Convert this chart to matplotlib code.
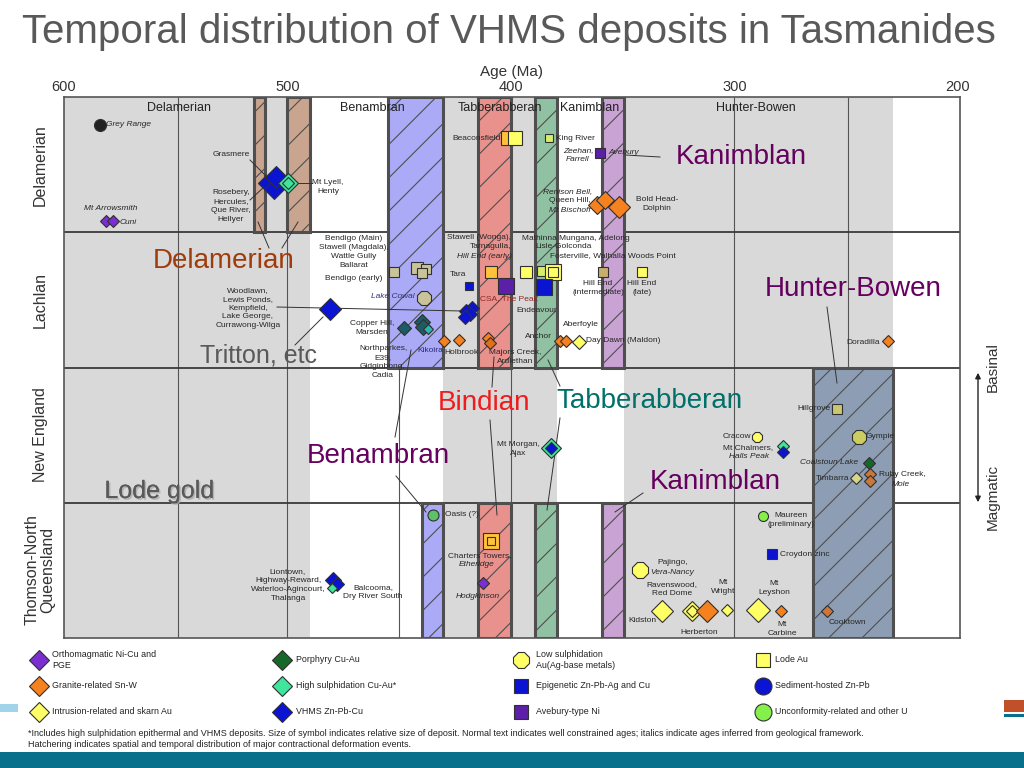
import matplotlib
matplotlib.use('Agg')
import matplotlib.pyplot as plt
import matplotlib.patheffects as pe
from matplotlib.patches import Rectangle
from matplotlib.transforms import Affine2D
from matplotlib import font_manager

plt.rcParams['font.family'] = ['Liberation Sans', 'DejaVu Sans']
plt.rcParams['hatch.linewidth'] = 0.8

W, H = 1024, 768

# ---------------- data ----------------
title = 'Temporal distribution of VHMS deposits in Tasmanides'
age_ticks = [600, 500, 400, 300, 200]
row_names = ['Thomson-North\nQueensland', 'New England', 'Lachlan', 'Delamerian']

# grey background intervals (Ma) and thin vertical rules
grey_spans = [(600, 490), (430.4, 379.4), (349.4, 229.3)]
rule_ages = [549, 500, 450, 400, 300, 249]

# contractional deformation events (hatched)
band_event = ['Delamerian', 'Delamerian', 'Benambran', 'Benambran', 'Bindian', 'Bindian',
              'Tabberabberan', 'Tabberabberan', 'Kanimblan', 'Kanimblan', 'Hunter-Bowen']
band_old = [515, 500, 455, 440, 414.8, 414.8, 389.3, 389.3, 359.3, 359.3, 264.9]
band_young = [510, 490, 430.4, 430.4, 400, 400, 379.4, 379.4, 349.4, 349.4, 229.3]
band_row_lo = [3, 3, 2, 0, 2, 0, 2, 0, 2, 0, 0]
band_row_hi = [4, 4, 4, 1, 4, 1, 4, 1, 4, 1, 2]

# deposits: age (Ma), row (0 Thomson .. 3 Delamerian), type, symbol size (px)
dep_age = [583.9, 581.2, 578.1, 510.1, 506.0, 505.1, 499.8, 499.8, 401.3, 398.2, 383.0, 360.2,
           361.5, 357.9, 351.7,
           452.3, 442.1, 438.0, 439.8, 438.9, 447.9, 439.8, 439.4, 437.1, 481.0, 418.8,
           417.4, 420.1, 418.3, 420.6, 430.0, 423.3, 408.9, 402.2, 410.3, 409.4, 393.3, 386.1,
           381.2, 381.2, 385.2, 378.1, 375.4, 369.6, 358.8, 341.4, 231.3,
           254.1, 290.1, 278.3, 278.3, 382.1, 382.1, 244.3, 239.8, 245.6, 239.4, 239.4,
           434.9, 408.9, 408.9, 412.5, 479.6, 477.9, 480.1, 342.3, 332.4, 319.0, 319.0, 312.3,
           303.4, 289.5, 279.2, 258.6, 287.2, 283.2]
dep_row = [3] * 15 + [2] * 32 + [1] * 11 + [0] * 18
dep_type = ['sed_black', 'ortho', 'ortho', 'vhms', 'vhms', 'vhms', 'hs', 'hs', 'lode_orange', 'lode',
            'lode_lime', 'avebury', 'granite', 'granite', 'granite',
            'lode_khaki', 'lode_khaki', 'lode_khaki', 'lode_khaki', 'low_khaki', 'porph_teal',
            'porph_teal', 'porph_teal', 'hs_teal', 'vhms', 'epigenetic',
            'vhms', 'vhms', 'vhms', 'vhms', 'granite', 'granite', 'lode_orange', 'avebury',
            'granite', 'granite_dark', 'lode', 'lode_lime',
            'lode', 'lode', 'epigenetic', 'granite', 'granite', 'intrusion', 'lode_tan', 'lode',
            'granite',
            'lode_olive', 'lowsulph', 'hs', 'vhms', 'hs', 'vhms', 'low_olive', 'porphyry',
            'intr_khaki', 'granite_brown', 'granite_brown',
            'uranium_mid', 'lode_orange', 'lode_orange', 'ortho', 'vhms', 'vhms', 'hs', 'lowsulph',
            'intrusion', 'intrusion', 'intrusion', 'granite', 'intrusion', 'intrusion', 'granite',
            'granite_brown', 'uranium', 'epigenetic']
dep_size = [12, 12, 12, 14, 20, 22, 20, 11, 15, 15, 9, 11, 18, 18, 22,
            10, 13, 10, 11, 15, 13, 16, 16, 9, 22, 9, 14, 14, 14, 14, 11, 11, 12, 16, 12, 12, 12, 11,
            17, 10, 16, 12, 12, 13, 10, 10, 12,
            10, 11, 12, 12, 20, 11, 16, 12, 12, 12, 12,
            11, 16, 9, 11, 16, 14, 9, 18, 22, 20, 11, 22, 12, 24, 12, 12, 10, 10]
# vertical placement inside each row (0 bottom .. 1 top), layout only
dep_level = [0.793, 0.083, 0.083, 0.364, 0.320, 0.409, 0.364, 0.364, 0.697, 0.697, 0.697, 0.586,
             0.201, 0.238, 0.187,
             0.706, 0.736, 0.728, 0.699, 0.514, 0.292, 0.336, 0.300, 0.285, 0.433, 0.603,
             0.440, 0.418, 0.396, 0.373, 0.196, 0.203, 0.706, 0.603, 0.218, 0.181, 0.706, 0.714,
             0.706, 0.706, 0.595, 0.196, 0.196, 0.189, 0.706, 0.706, 0.196,
             0.693, 0.486, 0.420, 0.375, 0.405, 0.405, 0.486, 0.294, 0.183, 0.213, 0.161,
             0.909, 0.717, 0.717, 0.407, 0.429, 0.399, 0.370, 0.503, 0.200, 0.200, 0.200, 0.200,
             0.207, 0.207, 0.200, 0.200, 0.902, 0.621]

legend_text = ['Orthomagmatic Ni-Cu and\nPGE', 'Granite-related Sn-W', 'Intrusion-related and skarn Au',
               'Porphyry Cu-Au', 'High sulphidation Cu-Au*', 'VHMS Zn-Pb-Cu',
               'Low sulphidation\nAu(Ag-base metals)', 'Epigenetic Zn-Pb-Ag and Cu', 'Avebury-type Ni',
               'Lode Au', 'Sediment-hosted Zn-Pb', 'Unconformity-related and other U']
legend_type = ['ortho', 'granite', 'intrusion', 'porphyry', 'hs', 'vhms',
               'lowsulph', 'epigenetic', 'avebury', 'lode', 'sediment', 'uranium']

footnote = ('*Includes high sulphidation epithermal and VHMS deposits. Size of symbol indicates relative '
            'size of deposit. Normal text indicates well constrained ages; italics indicate ages inferred '
            'from geological framework.\nHatchering indicates spatial and temporal distribution of major '
            'contractional deformation events.')

# ---------------- styles ----------------
event_color = {'Delamerian': '#c9a48f', 'Benambran': '#aaaaf7', 'Bindian': '#e9918c',
               'Tabberabberan': '#91c1a3', 'Kanimblan': '#c9a3d3', 'Hunter-Bowen': '#8d9eb4'}
sym = {
    'ortho': ('D', '#7b2fd0'), 'granite': ('D', '#f5821f'), 'granite_dark': ('D', '#e0701a'),
    'granite_brown': ('D', '#c8783c'), 'intrusion': ('D', '#ffff66'), 'intr_khaki': ('D', '#d6d68a'),
    'porphyry': ('D', '#17672a'), 'porph_teal': ('D', '#1d5c66'), 'hs': ('D', '#3fe59d'),
    'hs_teal': ('D', '#2fb5b0'), 'vhms': ('D', '#0a14d2'),
    'lowsulph': ('8', '#ffff66'), 'low_khaki': ('8', '#c9c39a'), 'low_olive': ('8', '#cccc60'),
    'epigenetic': ('s', '#0a14d2'), 'avebury': ('s', '#5b1fa8'), 'lode': ('s', '#ffff66'),
    'lode_orange': ('s', '#ffc23a'), 'lode_lime': ('s', '#d4ef6a'), 'lode_khaki': ('s', '#c9c39a'),
    'lode_tan': ('s', '#c6ae6c'), 'lode_olive': ('s', '#c8c870'),
    'sediment': ('o', '#0a14d2'), 'sed_black': ('o', '#222222'),
    'uranium': ('o', '#86f04a'), 'uranium_mid': ('o', '#5fc06a'),
}
px_per_ms = {'D': 1.964, 's': 1.389, 'o': 1.389, '8': 1.389}

names = {f.name for f in font_manager.fontManager.ttflist}
narrow = 'Liberation Sans Narrow' if 'Liberation Sans Narrow' in names else 'Liberation Sans'
narrow_scale = 1.2 if narrow == 'Liberation Sans Narrow' else 1.0

# ---------------- figure ----------------
fig = plt.figure(figsize=(W / 100, H / 100), dpi=100)
fig.patch.set_facecolor('white')
ax = fig.add_axes([64 / W, 1 - 638 / H, 896 / W, 541 / H])
ax.set_xlim(600, 199.1)
ax.set_ylim(0, 4)
pix = Affine2D().scale(1 / W, -1 / H).translate(0, 1) + fig.transFigure

for a0, a1 in grey_spans:
    ax.add_patch(Rectangle((a1, 0), a0 - a1, 4, fc='#d9d9d9', ec='none', zorder=0.5))
ax.vlines(rule_ages, 0, 4, colors='#555555', lw=0.8, zorder=1)
ax.hlines([1, 2, 3], 600, 199.1, colors='#3a3a3a', lw=1.3, zorder=1.5)

for ev, a0, a1, r0, r1 in zip(band_event, band_old, band_young, band_row_lo, band_row_hi):
    ax.add_patch(Rectangle((a1, r0), a0 - a1, r1 - r0, fc=event_color[ev], ec='#4f4f4f',
                           lw=2.2, hatch='/', zorder=2))

for a, r, t, s, lv in zip(dep_age, dep_row, dep_type, dep_size, dep_level):
    m, c = sym[t]
    ax.plot(a, r + lv, marker=m, ms=s / px_per_ms[m], mfc=c, mec='#303030', mew=0.8,
            ls='none', zorder=4)

for sp in ax.spines.values():
    sp.set_color('#555555')
    sp.set_linewidth(1.2)
ax.set_xticks(age_ticks)
ax.xaxis.tick_top()
ax.tick_params(axis='x', length=0, pad=2, labelsize=10.5, labelcolor='#333333')
ax.set_yticks([])

# ---------------- annotations (pixel layout) ----------------
def T(x, y, s, size=6.0, ha='center', style='normal', color='#262626', z=3, **kw):
    return ax.text(x, y, s, transform=pix, fontsize=size, ha=ha, va='center', style=style,
                   color=color, zorder=z, clip_on=False, linespacing=1.36, **kw)


def L(x0, y0, x1, y1, lw=0.7, z=2.5):
    ax.plot([x0, x1], [y0, y1], transform=pix, color='#333333', lw=lw, zorder=z, clip_on=False)


fig.text(509 / W, 1 - 32 / H, title, ha='center', va='center', fontsize=29, color='#595959')
fig.text(511 / W, 1 - 72 / H, 'Age (Ma)', ha='center', va='center', fontsize=11, color='#333333')
for name, y in zip(row_names, [570, 435, 300, 165]):
    fig.text(40 / W, 1 - y / H, name, rotation=90, ha='center', va='center', fontsize=11.5,
             color='#333333', linespacing=1.0)

for name, x in zip(['Delamerian', 'Benambran', 'Tabberabberan', 'Kanimblan', 'Hunter-Bowen'],
                   [179, 372, 500, 590, 756]):
    T(x, 108, name, size=9, color='#222222', z=3)

small = [
    ('Grey Range', 106, 125, 'left', 'italic'), ('Mt Arrowsmith', 111, 209, 'center', 'italic'),
    ('Cuni', 120, 222, 'left', 'italic'), ('Grasmere', 231, 155, 'center', 'normal'),
    ('Rosebery,\nHercules,\nQue River,\nHellyer', 231, 206, 'center', 'normal'),
    ('Mt Lyell,\nHenty', 328, 187, 'center', 'normal'), ('Beaconsfield', 501, 138, 'right', 'normal'),
    ('King River', 556, 138, 'left', 'normal'), ('Zeehan,\nFarrell', 578, 155, 'center', 'italic'),
    ('Avebury', 608, 153, 'left', 'italic'), ('Renison Bell,', 592, 192, 'right', 'italic'),
    ('Queen Hill,', 591, 201, 'right', 'normal'), ('Mt Bischoff', 591, 210, 'right', 'italic'),
    ('Bold Head-\nDolphin', 657, 204, 'center', 'normal'),
    ('Bendigo (Main)\nStawell (Magdala),\nWattle Gully\nBallarat', 354, 252, 'center', 'normal'),
    ('Bendigo (early)', 354, 278, 'center', 'normal'),
    ('Woodlawn,\nLewis Ponds,\nKempfield,\nLake George,\nCurrawong-Wilga', 248, 308, 'center', 'normal'),
    ('Copper Hill,\nMarsden', 372, 328, 'center', 'normal'),
    ('Northparkes,\nE39,\nGidginbong,\nCadia', 383, 362, 'center', 'normal'),
    ('Tara', 458, 275, 'center', 'normal'), ('Holbrook', 461, 353, 'center', 'normal'),
    ('Stawell (Wonga),\nTarnagulla,', 511, 242, 'right', 'normal'),
    ('Hill End (early)', 512, 257, 'right', 'italic'), ('Endeavour', 537, 310, 'center', 'normal'),
    ('Majors Creek,\nArdlethan', 515, 357, 'center', 'normal'),
    ('Mathinna Mungana, Adelong', 522, 238, 'left', 'normal'),
    ('Lisle-Golconda', 535, 247, 'left', 'normal'),
    ('Fosterville, Walhalla Woods Point', 550, 256, 'left', 'normal'),
    ('Hill End\n(intermediate)', 598, 288, 'center', 'normal'),
    ('Hill End\n(late)', 642, 288, 'center', 'normal'), ('Aberfoyle', 581, 324, 'center', 'normal'),
    ('Anchor', 538, 337, 'center', 'normal'), ('Day Dawn (Maldon)', 586, 341, 'left', 'normal'),
    ('Doradilla', 880, 342, 'right', 'normal'),
    ('Hillgrove', 831, 409, 'right', 'normal'), ('Cracow', 751, 436, 'right', 'normal'),
    ('Mt Chalmers,', 748, 448, 'center', 'normal'), ('Halls Peak', 749, 457, 'center', 'italic'),
    ('Mt Morgan,\nAjax', 518, 449, 'center', 'normal'), ('Gympie', 866, 436, 'left', 'normal'),
    ('Coalstoun Lake', 829, 463, 'center', 'italic'), ('Timbarra', 833, 478, 'center', 'normal'),
    ('Ruby Creek,', 879, 475, 'left', 'normal'), ('Mole', 901, 484, 'center', 'italic'),
    ('Oasis (?)', 445, 515, 'left', 'normal'), ('Charters Towers,', 480, 556, 'center', 'normal'),
    ('Etheridge', 477, 565, 'center', 'italic'), ('Hodgkinson', 478, 596, 'center', 'italic'),
    ('Liontown,\nHighway-Reward,\nWaterloo-Agincourt,\nThalanga', 288, 585, 'center', 'normal'),
    ('Balcooma,\nDry River South', 373, 592, 'center', 'normal'),
    ('Pajingo,', 673, 563, 'center', 'normal'), ('Vera-Nancy', 672, 573, 'center', 'italic'),
    ('Ravenswood,\nRed Dome', 672, 589, 'center', 'normal'), ('Mt\nWright', 723, 587, 'center', 'normal'),
    ('Kidston', 642, 620, 'center', 'normal'), ('Herberton', 699, 633, 'center', 'normal'),
    ('Mt\nLeyshon', 774, 588, 'center', 'normal'), ('Mt\nCarbine', 782, 629, 'center', 'normal'),
    ('Maureen\n(preliminary)', 791, 520, 'center', 'normal'),
    ('Croydon zinc', 780, 554, 'left', 'normal'), ('Cooktown', 847, 622, 'center', 'normal'),
]
for s, x, y, ha, st in small:
    T(x, y, s, ha=ha, style=st)
T(393, 297, 'Lake Cowal', style='italic', color='#33337a')
T(430, 350, 'Kikoira', color='#2a2a80')
T(509, 299, 'CSA, The Peak', color='#8e2626')

leaders = [(250, 160, 267, 177), (250, 200, 265, 186), (298, 183, 312, 183), (277, 307, 462, 311),
           (295, 345, 323, 317), (660, 157, 625, 155), (269, 248, 258, 222), (282, 248, 298, 222),
           (395, 437, 411, 350), (396, 476, 426, 512), (492, 387, 494, 357), (490, 420, 497, 515),
           (560, 386, 548, 360), (560, 418, 547, 510), (643, 493, 615, 512), (827, 307, 837, 383)]
for x0, y0, x1, y1 in leaders:
    L(x0, y0, x1, y1)

purple = '#65005e'
big = [('Kanimblan', 741, 157, 20, purple), ('Delamerian', 224, 261, 20, '#a03c0c'),
       ('Hunter-Bowen', 853, 289, 20, purple), ('Tritton, etc', 259, 356, 18, '#595959'),
       ('Bindian', 484, 403, 20, '#ee1c1c'), ('Tabberabberan', 649, 401, 20, '#00706a'),
       ('Benambran', 378, 456, 20, purple), ('Kanimblan', 715, 482, 20, purple)]
for s, x, y, fs, c in big:
    T(x, y, s, size=fs, color=c, z=5)
T(159, 491, 'Lode gold', size=18, color='#595959', z=5,
  path_effects=[pe.withSimplePatchShadow(offset=(1.2, -1.2), shadow_rgbFace='#aaaaaa', alpha=0.8),
                pe.Normal()])

# basinal / magmatic arrow
ax.annotate('', xy=(978, 370), xytext=(978, 505), xycoords=pix, textcoords=pix,
            arrowprops=dict(arrowstyle='<|-|>', color='#222222', lw=1, mutation_scale=8),
            annotation_clip=False)
T(993, 367, 'Basinal', size=11, color='#333333').set_rotation(90)
T(993, 497, 'Magmatic', size=11, color='#333333').set_rotation(90)

# legend
col_x = [39, 282, 521, 763]
txt_x = [52, 296, 536, 775]
row_y = [660, 686, 712]
leg_px = {'D': 19, 's': 15, 'o': 17, '8': 17}
for i, (lab, t) in enumerate(zip(legend_text, legend_type)):
    cx, ry = col_x[i // 3], row_y[i % 3]
    m, c = sym[t]
    ax.plot([cx], [ry], transform=pix, marker=m, ms=leg_px[m] / px_per_ms[m], mfc=c,
            mec='#303030', mew=0.8, ls='none', clip_on=False)
    ax.text(txt_x[i // 3], ry, lab, transform=pix, fontsize=6.4 * narrow_scale, family=narrow,
            ha='left', va='center', color='#222222', linespacing=1.2, clip_on=False)

fig.text(28 / W, 1 - 739 / H, footnote, fontsize=6.5 * narrow_scale, family=narrow, ha='left',
         va='center', color='#222222', linespacing=1.3)

# slide decorations
for (x, y, w, h, c) in [(0, 752, 1024, 16, '#08708b'), (0, 704, 18, 8, '#9fd4ea'),
                        (1004, 700, 20, 12, '#c0502a'), (1004, 714, 20, 3, '#08708b')]:
    fig.patches.append(Rectangle((x / W, 1 - (y + h) / H), w / W, h / H,
                                 transform=fig.transFigure, fc=c, ec='none', zorder=0))

fig.savefig('out.png', dpi=100)
